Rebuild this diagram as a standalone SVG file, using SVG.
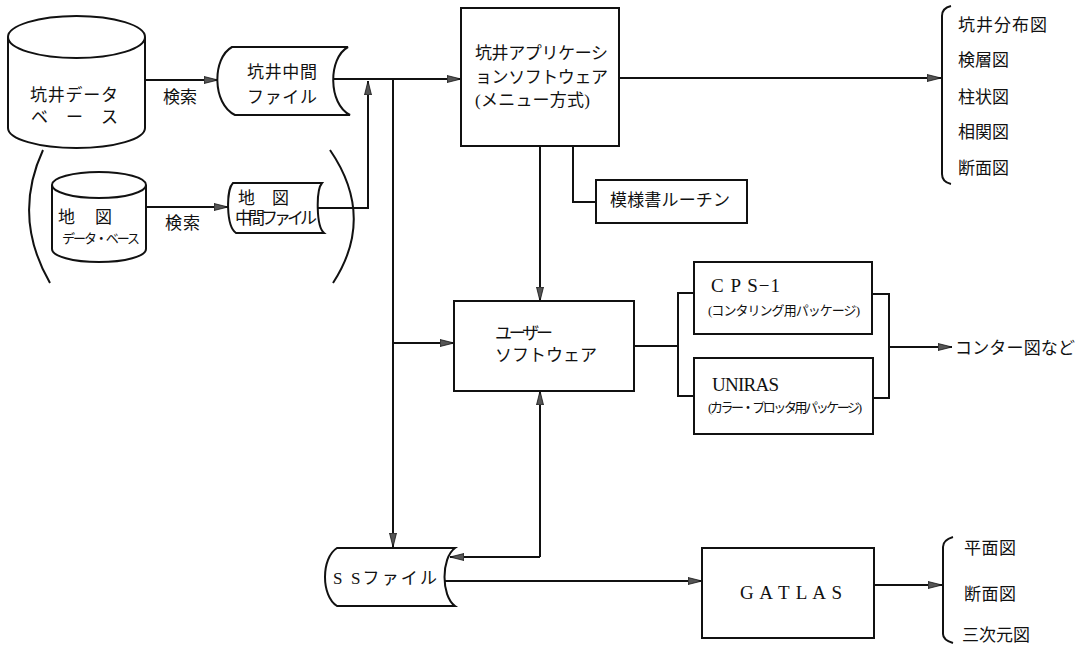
<svg xmlns="http://www.w3.org/2000/svg" width="1091" height="646" viewBox="0 0 1091 646">
<style>
.s{fill:none;stroke:#111;stroke-width:2;stroke-linejoin:miter}
.n{fill:#fff;stroke:#111;stroke-width:2}
.t{font-family:"Liberation Serif","Noto Sans CJK JP",serif;font-size:17px;fill:#111}
.sm{font-size:13px}
.lat{font-family:"Liberation Serif",serif;font-size:19px;fill:#111}
</style>
<defs>
<marker id="a" viewBox="0 0 14 8" refX="14" refY="4" markerWidth="14" markerHeight="8" markerUnits="userSpaceOnUse" orient="auto">
<path d="M0,0.5 L14,4 L0,7.5 Z" fill="#555" stroke="#111" stroke-width="0.8"/>
</marker>
</defs>
<rect width="1091" height="646" fill="#fff"/>

<g id="connectors">
<path class="s" d="M145,80 L218,80" marker-end="url(#a)"/>
<path class="s" d="M146,207 L228,207" marker-end="url(#a)"/>
<path class="s" d="M318,208 L368,208 L368,81" marker-end="url(#a)"/>
<path class="s" d="M333,79 L461,79" marker-end="url(#a)"/>
<path class="s" d="M393,79 L393,547" marker-end="url(#a)"/>
<path class="s" d="M393,343 L454,343" marker-end="url(#a)"/>
<path class="s" d="M619,78 L941,78" marker-end="url(#a)"/>
<path class="s" d="M540,146 L540,301" marker-end="url(#a)"/>
<path class="s" d="M573,146 L573,202 L596,202"/>
<path class="s" d="M634,346 L678,346"/>
<path class="s" d="M694,293 L678,293 L678,396 L694,396"/>
<path class="s" d="M872,294 L889,294 L889,398 L873,398"/>
<path class="s" d="M889,347 L952,347" marker-end="url(#a)"/>
<path class="s" d="M540,557 L540,391" marker-end="url(#a)"/>
<path class="s" d="M540,557 L450,557" marker-end="url(#a)"/>
<path class="s" d="M445,581 L702,581" marker-end="url(#a)"/>
<path class="s" d="M874,585 L942,585" marker-end="url(#a)"/>
<text class="t" x="163" y="103" textLength="34">検索</text>
<text class="t" x="165" y="229" textLength="35">検索</text>
</g>

<g id="well-db">
<path class="n" d="M8,37 L8,128 A68.5,20 0 0 0 145,128 L145,37"/>
<ellipse class="n" cx="76.5" cy="37" rx="68.5" ry="21"/>
<text class="t" x="30" y="101" textLength="88">坑井データ</text>
<text class="t" x="31" y="123" textLength="87">ベ ー ス</text>
</g>

<g id="map-group">
<path class="s" d="M43,150 Q12,217 50,283"/>
<path class="s" d="M330,150 Q376,217 333,283"/>
</g>

<g id="map-db">
<path class="n" d="M52,185 L52,249 A47,13 0 0 0 146,249 L146,185"/>
<ellipse class="n" cx="99" cy="185" rx="47" ry="13"/>
<text class="t" x="58" y="223" font-size="18" textLength="54">地 図</text>
<text class="t sm" x="62" y="243" textLength="78">データ・ベース</text>
</g>

<g id="well-file">
<path class="n" d="M232,47 L348,47 C328,58 328,104 350,115 L235,115 C212,104 212,58 232,47 Z"/>
<text class="t" x="247" y="78" textLength="70">坑井中間</text>
<text class="t" x="247" y="103" textLength="70">ファイル</text>
</g>

<g id="map-file">
<path class="n" d="M233,183 L322,183 C316,190 316,226 324,233 L236,233 C226,226 226,190 233,183 Z"/>
<text class="t" x="238" y="204" textLength="51">地 図</text>
<text class="t" x="235" y="224" font-size="15" textLength="82">中間ファイル</text>
</g>

<g id="app">
<rect class="n" x="461" y="8" width="158" height="138"/>
<text class="t" x="475" y="59" textLength="133">坑井アプリケーシ</text>
<text class="t" x="475" y="83" textLength="133">ョンソフトウェア</text>
<text class="t" x="475" y="106" textLength="115">(メニュー方式)</text>
</g>

<g id="pattern-routine">
<rect class="n" x="596" y="180" width="151" height="43"/>
<text class="t" x="610" y="206" textLength="120">模様書ルーチン</text>
</g>

<g id="well-outputs">
<path class="s" d="M951,6 Q942,8 942,16 L942,174 Q942,182 951,184"/>
<text class="t" x="958" y="31" font-size="18" textLength="89">坑井分布図</text>
<text class="t" x="958" y="66" font-size="18">検層図</text>
<text class="t" x="958" y="103" font-size="18">柱状図</text>
<text class="t" x="958" y="138" font-size="18">相関図</text>
<text class="t" x="958" y="174" font-size="18">断面図</text>
</g>

<g id="user-sw">
<rect class="n" x="454" y="301" width="180" height="90"/>
<text class="t" x="495" y="339" textLength="58">ユーザー</text>
<text class="t" x="495" y="361" textLength="102">ソフトウェア</text>
</g>

<g id="cps1">
<rect class="n" x="694" y="262" width="178" height="72"/>
<text class="lat" x="711" y="292" textLength="69">C P S−1</text>
<text class="t sm" x="708" y="315" textLength="152">(コンタリング用パッケージ)</text>
</g>

<g id="uniras">
<rect class="n" x="694" y="358" width="179" height="76"/>
<text class="lat" x="712" y="391" textLength="67">UNIRAS</text>
<text class="t sm" x="708" y="412" textLength="154">(カラー・プロッタ用パッケージ)</text>
</g>

<g id="contour-out">
<text class="t" x="955" y="354" textLength="120">コンター図など</text>
</g>

<g id="ss-file">
<path class="n" d="M337,548 L455,548 C441,558 441,596 455,606 L337,606 C321,596 321,558 337,548 Z"/>
<text class="t" x="333" y="584" textLength="104">S Sファイル</text>
</g>

<g id="gatlas">
<rect class="n" x="702" y="548" width="172" height="90"/>
<text class="lat" x="740" y="599" font-size="18" textLength="102">G A T L A S</text>
</g>

<g id="gatlas-outputs">
<path class="s" d="M953,537 Q943,540 943,547 L943,634 Q943,640 953,643"/>
<text class="t" x="964" y="554" textLength="52">平面図</text>
<text class="t" x="964" y="600" textLength="52">断面図</text>
<text class="t" x="962" y="641" textLength="68">三次元図</text>
</g>
</svg>
